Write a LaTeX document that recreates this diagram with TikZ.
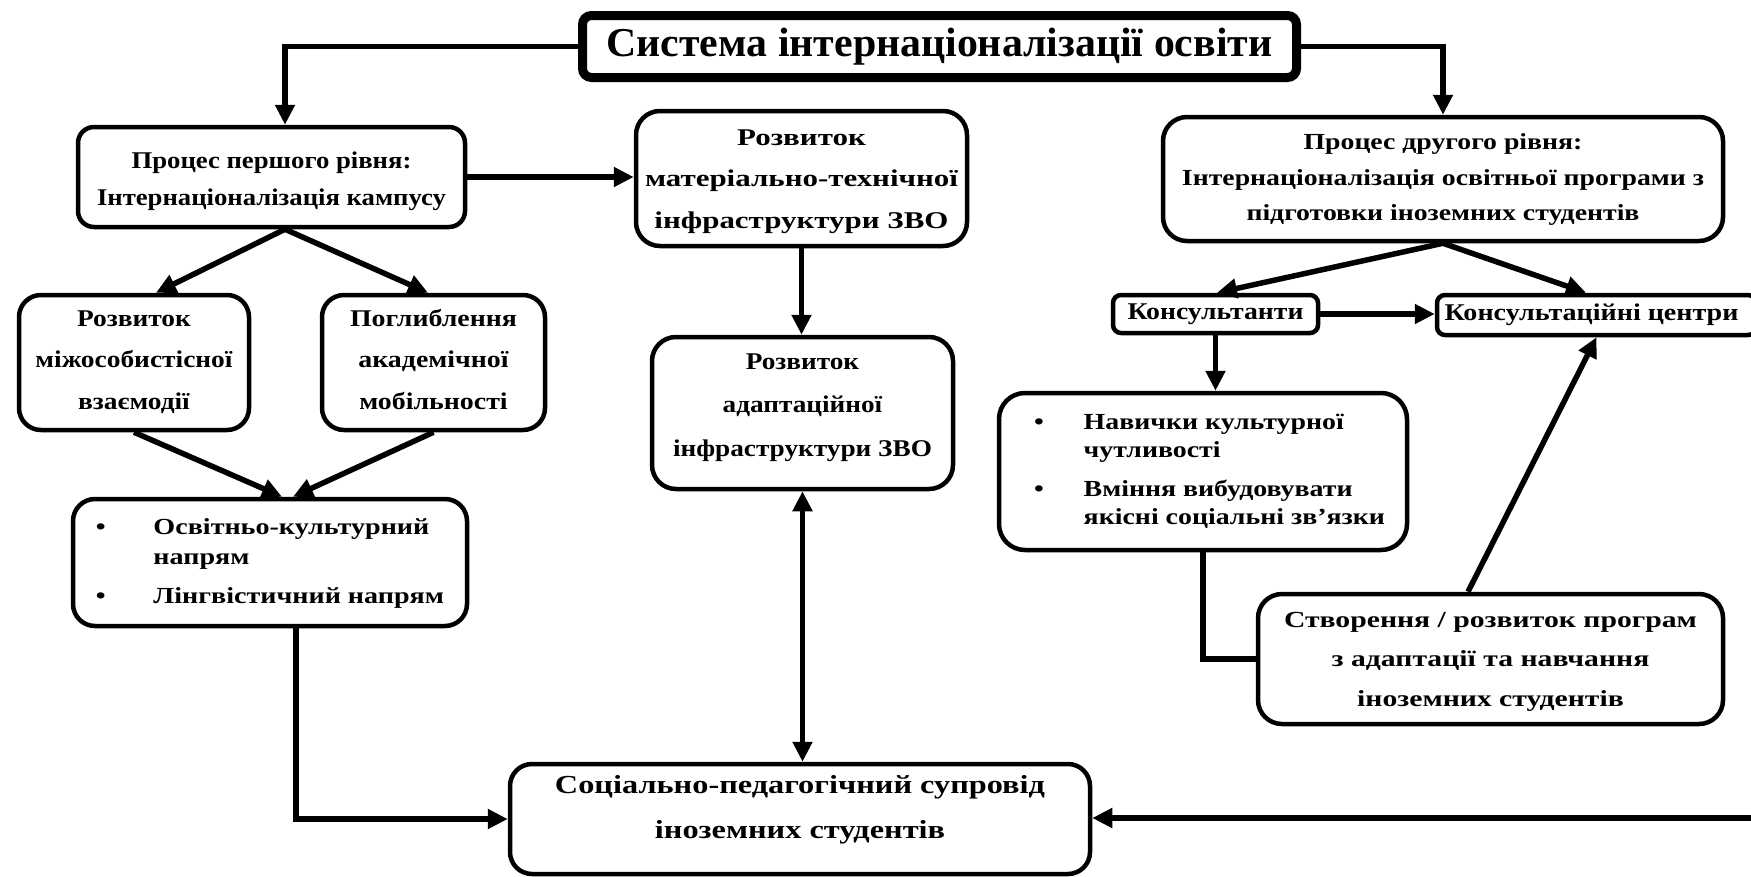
\documentclass[tikz,border=0pt]{standalone}
\usepackage{fontspec}
\setmainfont{Liberation Serif}
\usepackage{graphicx}
\usetikzlibrary{arrows.meta}
% #1 raise, #2 target width, #3 lines
\newcommand\tb[3]{\raisebox{#1pt}[\height][\depth]{\resizebox{#2pt}{\height}{\begin{tabular}{@{}c@{}}#3\end{tabular}}}}
\newcommand\fitw[2]{\resizebox{#1pt}{\height}{#2}}
\tikzset{
  box/.style={draw, line width=4.5pt, fill=white, inner sep=0pt, align=center},
  arr/.style={line width=5.5pt, -{Triangle[length=20pt,width=19pt]}},
  dar/.style={line width=5.5pt, {Triangle[length=20pt,width=19pt]}-{Triangle[length=20pt,width=19pt]}},
  ln/.style={line width=5.5pt},
}
\begin{document}
\begin{tikzpicture}[x=1pt,y=-1pt]
\useasboundingbox (0,0) rectangle (1751,876);
\fill[white] (0,0) rectangle (1751,876);
\clip (0,0) rectangle (1751,876);

% title
\node[box, line width=9pt, rounded corners=9pt, minimum width=714pt, minimum height=62pt,
      font=\fontsize{41}{46}\selectfont\bfseries] (title) at (939.5,46.5)
  {\fitw{666}{Система інтернаціоналізації освіти}};

% level 1
\node[box, rounded corners=16pt, minimum width=387pt, minimum height=100pt,
      font=\fontsize{24}{37}\selectfont\bfseries] (b1) at (271.5,177)
  {\tb{-3}{349}{Процес першого рівня:\\Інтернаціоналізація кампусу}};

\node[box, rounded corners=24pt, minimum width=331pt, minimum height=135pt,
      font=\fontsize{24}{41.5}\selectfont\bfseries] (b2) at (801.5,178.5)
  {\tb{0}{313}{Розвиток\\матеріально-технічної\\інфраструктури ЗВО}};

\node[box, rounded corners=24pt, minimum width=560pt, minimum height=124pt,
      font=\fontsize{23}{35.5}\selectfont\bfseries] (b3) at (1443,179)
  {\tb{1}{522}{Процес другого рівня:\\Інтернаціоналізація освітньої програми з\\підготовки іноземних студентів}};

\node[box, rounded corners=22pt, minimum width=230pt, minimum height=135pt,
      font=\fontsize{24}{41.5}\selectfont\bfseries] (b4) at (134,362.5)
  {\tb{3}{197}{Розвиток\\міжособистісної\\взаємодії}};

\node[box, rounded corners=22pt, minimum width=223pt, minimum height=135pt,
      font=\fontsize{24}{41.5}\selectfont\bfseries] (b5) at (433.5,362.5)
  {\tb{3}{167}{Поглиблення\\академічної\\мобільності}};

\node[box, rounded corners=22pt, minimum width=394pt, minimum height=127pt,
      font=\fontsize{23}{30}\selectfont\bfseries] (b6) at (270,562.5)
  {\fitw{348}{\begin{tabular}{@{}l@{\hspace{39pt}}l@{}}\textbullet & Освітньо-культурний\\ & напрям\\[9pt] \textbullet & Лінгвістичний напрям\end{tabular}}};

\node[box, rounded corners=24pt, minimum width=301pt, minimum height=152pt,
      font=\fontsize{24}{43.5}\selectfont\bfseries] (b7) at (802.5,413)
  {\tb{9}{259}{Розвиток\\адаптаційної\\інфраструктури ЗВО}};

\node[box, rounded corners=22pt, minimum width=580pt, minimum height=110pt,
      font=\fontsize{26}{45}\selectfont\bfseries] (soc) at (800,819)
  {\tb{12.5}{490}{Соціально-педагогічний супровід\\іноземних студентів}};

% level 2
\node[box, rounded corners=8pt, minimum width=205pt, minimum height=38pt,
      font=\fontsize{24}{28}\selectfont\bfseries] (b8) at (1215.5,314)
  {\fitw{176}{Консультанти}};

\node[box, rounded corners=8pt, minimum width=319pt, minimum height=40pt,
      font=\fontsize{24}{28}\selectfont\bfseries] (b9) at (1596.5,315)
  {\hspace*{-10pt}\fitw{294}{Консультаційні центри}};

\node[box, rounded corners=26pt, minimum width=408pt, minimum height=157pt,
      font=\fontsize{23}{28}\selectfont\bfseries] (b10) at (1203,471.5)
  {\hspace*{13pt}\fitw{351}{\begin{tabular}{@{}l@{\hspace{33pt}}l@{}}\textbullet & Навички культурної\\ & чутливості\\[11pt] \textbullet & Вміння вибудовувати\\ & якісні соціальні зв’язки\end{tabular}}};

\node[box, rounded corners=24pt, minimum width=465pt, minimum height=130pt,
      font=\fontsize{23}{39.5}\selectfont\bfseries] (b11) at (1490.5,659)
  {\tb{0}{413}{Створення / розвиток програм\\з адаптації та навчання\\іноземних студентів}};

\coordinate (redge) at (1760,818);

% connectors
\draw[arr] (title.west) -| ([xshift=13.5pt]b1.north);
\draw[arr] (title.east) -| (b3.north);
\draw[arr] (b1.east) -- (b1.east -| b2.west);
\draw[arr] ([xshift=13.5pt]b1.south) -- ([xshift=22pt]b4.north);
\draw[arr] ([xshift=13.5pt]b1.south) -- ([xshift=-5.5pt]b5.north);
\draw[arr] (b4.south) -- ([xshift=12pt]b6.north);
\draw[arr] (b5.south) -- ([xshift=23pt]b6.north);
\draw[arr] ([xshift=26pt]b6.south) |- (soc.west);
\draw[arr] (b2.south) -- (b2.south |- b7.north);
\draw[dar] (b7.south) -- (b7.south |- soc.north);
\draw[arr] (redge) -- (redge -| soc.east);
\draw[arr] (b3.south) -- ([xshift=1.5pt]b8.north);
\draw[arr] (b3.south) -- ([xshift=-10.5pt]b9.north);
\draw[arr] (b8.east) -- (b8.east -| b9.west);
\draw[arr] (b8.south) -- (b8.south |- b10.north);
\draw[ln] (b10.south) |- (b11.west);
\draw[arr] ([xshift=-22.5pt]b11.north) -- (b9.south);
\end{tikzpicture}
\end{document}
